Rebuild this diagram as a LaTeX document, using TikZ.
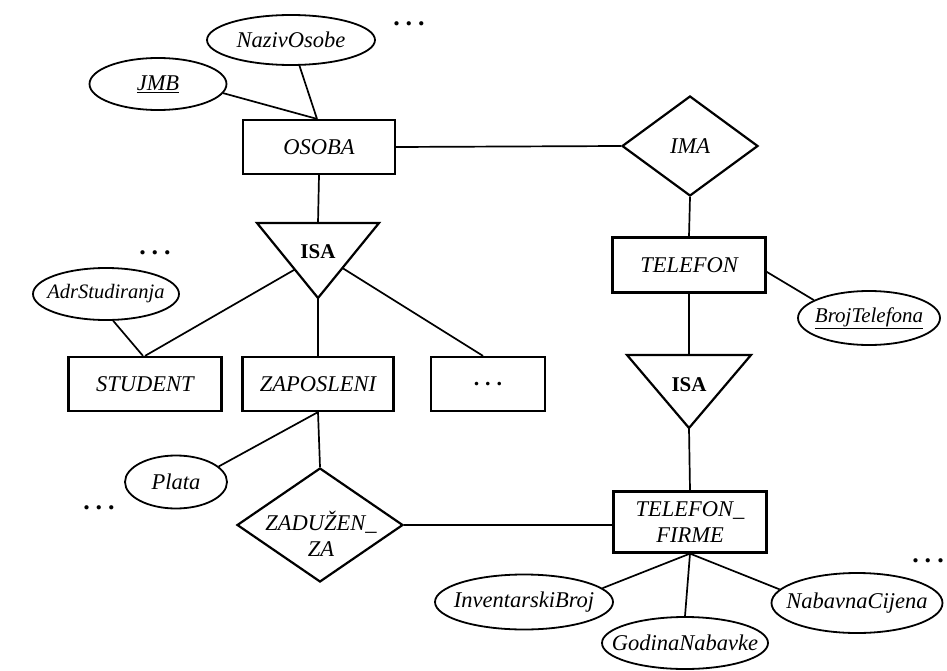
\documentclass[tikz,border=0pt]{standalone}
\usepackage{fontspec}
\setmainfont{Liberation Serif}
\usetikzlibrary{shapes.geometric,calc}
\newcommand{\threedots}{\textbf{.}\hspace{6pt}\textbf{.}\hspace{6pt}\textbf{.}}
\begin{document}
\begin{tikzpicture}[x=1pt,y=-1pt,
  every node/.style={font=\fontsize{22.5}{26}\selectfont\itshape, inner sep=0pt},
  entity/.style={draw, rectangle, line width=2.2pt, minimum height=54pt, align=center},
  attr/.style={draw, ellipse, line width=1.8pt, inner xsep=-18pt},
  rel/.style={draw, diamond, line width=2.2pt, align=center},
  link/.style={line width=1.7pt},
  isabox/.style={draw, line width=2.2pt, line join=miter},
  isatext/.style={font=\fontsize{21}{25}\selectfont\bfseries},
  more/.style={font=\fontsize{26}{28}\selectfont}
]
\useasboundingbox[fill=white] (0,0) rectangle (947,671);

% entities
\node[entity, minimum width=152pt] (osoba) at (319,147) {OSOBA};
\node[entity, minimum width=153pt, minimum height=55pt] (telefon) at (689,265) {TELEFON};
\node[entity, minimum width=153pt] (student) at (145,384) {STUDENT};
\node[entity, minimum width=151pt] (zaposleni) at (318,384) {ZAPOSLENI};
\node[entity, minimum width=114pt, font=\fontsize{22}{25}\selectfont] (ostali) at (488,384) {\threedots};
\node[entity, minimum width=153pt, minimum height=61pt] (tfirme) at (690,522) {TELEFON\_\\FIRME};

% relationships
\node[rel, aspect=1.36, minimum width=136pt, minimum height=100pt] (ima) at (690,146) {IMA};
\node[rel, aspect=1.46, minimum width=166pt, minimum height=114pt] (zaduzen) at (320,525) {};
\node[align=center] (zaduzenText) at (321,534) {ZADUŽEN\_\\ZA};

% attributes
\node[attr, minimum width=168pt, minimum height=50pt] (naziv) at (291,40) {NazivOsobe};
\node[attr, minimum width=137pt, minimum height=52pt] (jmb) at (158,84) {\underline{JMB}};
\node[attr, minimum width=142pt, minimum height=54pt, font=\fontsize{21}{25}\selectfont\itshape] (broj) at (869,318) {\underline{BrojTelefona}};
\node[attr, minimum width=146pt, minimum height=52pt, font=\fontsize{20.5}{25}\selectfont\itshape] (adr) at (106,294) {AdrStudiranja};
\node[attr, minimum width=102pt, minimum height=53pt] (plata) at (176,482) {Plata};
\node[attr, minimum width=178pt, minimum height=55pt] (inv) at (524,602) {InventarskiBroj};
\node[attr, minimum width=166pt, minimum height=52pt] (godina) at (685,643) {GodinaNabavke};
\node[attr, minimum width=171pt, minimum height=60pt] (nabavna) at (857,603) {NabavnaCijena};

% ellipsis marks for omitted parts
\node[more] (dotsA) at (409,24) {\threedots};
\node[more] (dotsB) at (155,253) {\threedots};
\node[more] (dotsC) at (99,508) {\threedots};
\node[more] (dotsD) at (928,561) {\threedots};

% ISA specialisation of OSOBA
\coordinate (isaL-tl) at (257,223);
\coordinate (isaL-tr) at (379,223);
\coordinate (isaL-b) at (318,298);
\coordinate (isaL-t) at (318,223);
\draw[isabox] (isaL-tl) -- (isaL-tr) -- (isaL-b) -- cycle;
\node[isatext] (isaL) at (318,252) {ISA};

% ISA specialisation of TELEFON
\coordinate (isaR-tl) at (627,355);
\coordinate (isaR-tr) at (751,355);
\coordinate (isaR-b) at (689,428);
\coordinate (isaR-t) at (689,355);
\draw[isabox] (isaR-tl) -- (isaR-tr) -- (isaR-b) -- cycle;
\node[isatext] (isaR) at (689,385) {ISA};

% connectors
\draw[link] (jmb.-8) -- ([xshift=-2pt]osoba.north);
\draw[link] (naziv) -- ([xshift=-2pt]osoba.north);
\draw[link] (osoba.east) -- (ima.west);
\draw[link] (ima.south) -- (telefon.north);
\draw[link] (telefon.-5) -- (broj.162);
\draw[link] (telefon.south) -- (isaR-t);
\draw[link] (isaR-b) -- (tfirme.north);
\draw[link] (osoba.south) -- (isaL-t);
\draw[link] ($(isaL-tl)!0.62!(isaL-b)$) -- (student.north);
\draw[link] (isaL-b) -- (zaposleni.north);
\draw[link] ($(isaL-tr)!0.6!(isaL-b)$) -- ([xshift=-5pt]ostali.north);
\draw[link] (adr.-75) -- ([xshift=-2pt]student.north);
\draw[link] (plata.20) -- (zaposleni.south);
\draw[link] (zaposleni.south) -- (zaduzen.north);
\draw[link] (zaduzen.east) -- (zaduzen.east -| tfirme.west);
\draw[link] (tfirme.south) -- (inv.10);
\draw[link] (tfirme.south) -- (godina.north);
\draw[link] (tfirme.south) -- (nabavna.170);
\end{tikzpicture}
\end{document}
